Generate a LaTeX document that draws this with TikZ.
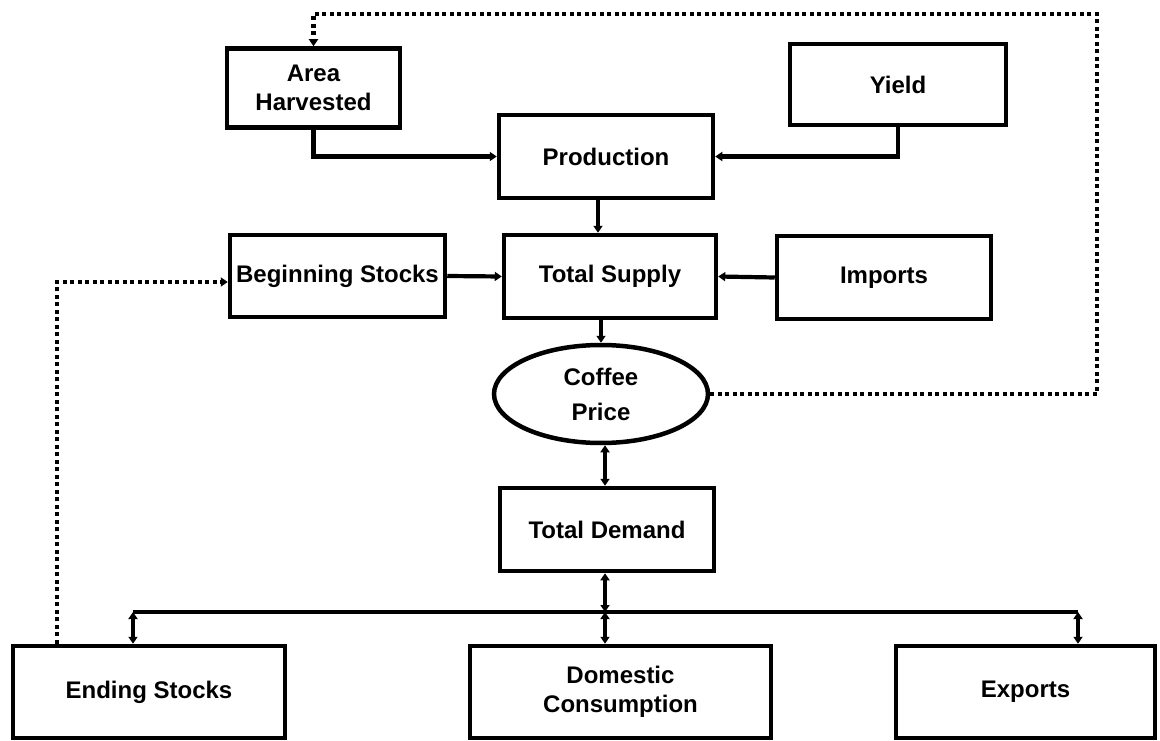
\documentclass[tikz,border=0pt]{standalone}
\usepackage{fontspec}
\setmainfont{Liberation Sans}
\usetikzlibrary{arrows.meta,shapes.geometric}
\begin{document}
\begin{tikzpicture}[x=1pt,y=-1pt,
  box/.style={draw,line width=4.5pt,inner sep=0pt,align=center,
    font=\bfseries\fontsize{24}{29}\selectfont},
  ell/.style={draw,ellipse,line width=4.5pt,inner sep=0pt,align=center,
    font=\bfseries\fontsize{24}{35}\selectfont},
  tip/.tip={Triangle[length=7pt,width=9pt]},
  con/.style={line width=4.2pt,-tip},
  dcon/.style={line width=4.2pt,tip-tip},
  busline/.style={line width=3.6pt},
  dotline/.style={line width=4.2pt,dash pattern=on 4pt off 3.5pt},
  dotarrow/.style={dotline,-{Triangle[length=7pt,width=9pt]}}]
\useasboundingbox (0,0) rectangle (1160,741);

\node[box,minimum width=173pt,minimum height=79pt] (ah) at (313.5,88) {Area\\Harvested};
\node[box,minimum width=216pt,minimum height=81pt] (yield) at (898,84.5) {Yield};
\node[box,minimum width=214pt,minimum height=83pt] (prod) at (606,156.5) {Production};
\node[box,minimum width=215pt,minimum height=82pt] (bs) at (337.5,276) {Beginning Stocks};
\node[box,minimum width=212pt,minimum height=83pt] (ts) at (610,276.5) {Total Supply};
\node[box,minimum width=214pt,minimum height=83pt] (imp) at (884,277.5) {Imports};
\node[ell,minimum width=214pt,minimum height=98pt] (cp) at (601,394) {Coffee\\Price};
\node[box,minimum width=214pt,minimum height=83pt] (td) at (607,529.5) {Total Demand};
\node[box,minimum width=272pt,minimum height=92pt] (es) at (149,692) {Ending Stocks};
\node[box,minimum width=301pt,minimum height=92pt] (dc) at (620.5,692) {Domestic\\Consumption};
\node[box,minimum width=259pt,minimum height=92pt] (ex) at (1025.5,692) {Exports};

\coordinate (busL) at (133,612);
\coordinate (busM) at (605,612);
\coordinate (busR) at (1078,612);
\coordinate (tr) at (1097,14);
\coordinate (bl) at (57,282);

% production inputs
\draw[con] (ah.south) |- (prod.west);
\draw[con] (yield.south) |- (prod.east);
\draw[con] ([xshift=-8pt]prod.south) -- ([xshift=-8pt]prod.south |- ts.north);
\draw[con] (bs.east) -- (ts.west);
\draw[con] (imp.west) -- (ts.east);
\draw[con] (cp.north |- ts.south) -- (cp.north);
\draw[dcon] (busM |- cp.south) -- (busM |- td.north);

% demand side
\draw[dcon] (busM |- td.south) -- (busM);
\draw[busline] (busL) -- (busR);
\draw[dcon] (busL) -- (busL |- es.north);
\draw[dcon] (busM) -- (busM |- dc.north);
\draw[dcon] (busR) -- (busR |- ex.north);

% feedback loops
\draw[dotarrow] (cp.east) -| (tr) -| (ah.north);
\draw[dotarrow] (es.north -| bl) -- (bl) -- (bs.west |- bl);
\end{tikzpicture}
\end{document}
